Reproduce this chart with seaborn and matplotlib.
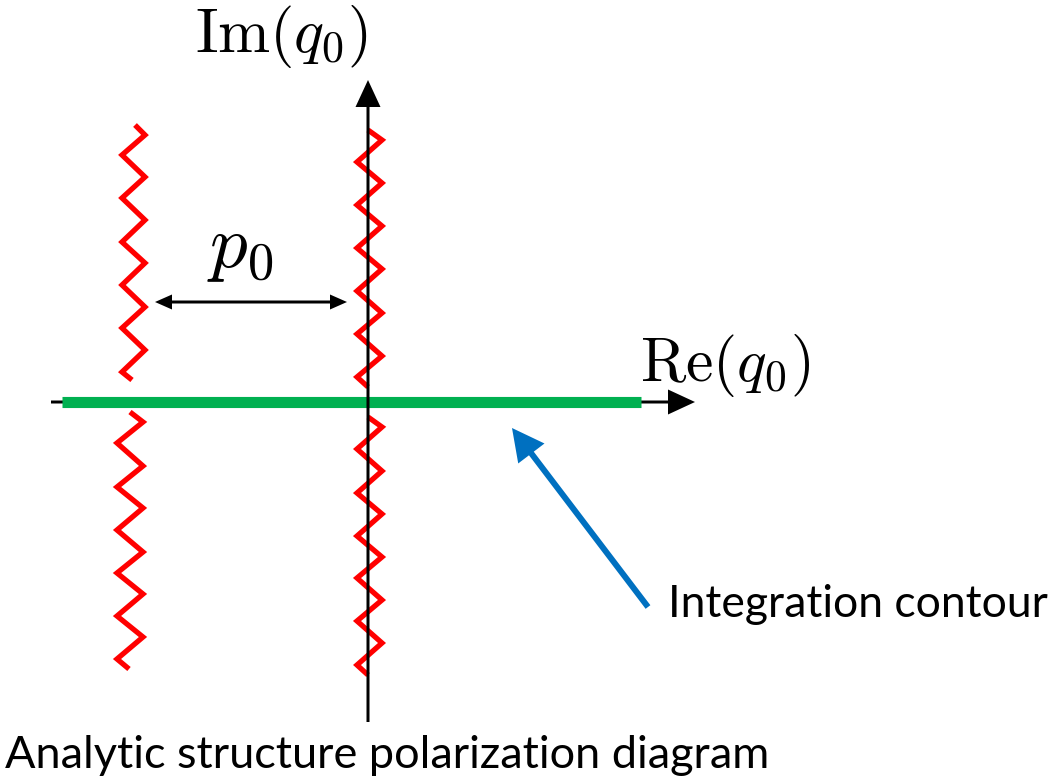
import matplotlib
matplotlib.use("Agg")
import matplotlib.pyplot as plt
import seaborn as sns

sns.set_theme(style="white")
plt.rcParams["mathtext.fontset"] = "cm"
plt.rcParams["font.family"] = ["Lato", "DejaVu Sans"]
plt.rcParams["text.color"] = "black"

W, H = 1056, 781

# Branch cuts drawn as zigzags (vertex positions in canvas units)
cut_left_upper_x = [135, 145, 122, 145, 122, 145, 122, 145, 122, 145, 122, 145, 122, 132]
cut_left_upper_y = [125, 135, 155, 177, 198, 220, 242, 263, 285, 307, 328, 350, 372, 380]
cut_left_lower_x = [130, 143, 117, 143, 117, 143, 117, 143, 117, 143, 117, 143, 117, 129]
cut_left_lower_y = [412, 422, 443, 466, 487, 508, 530, 552, 573, 594, 616, 637, 659, 669]
cut_right_upper_x = [368, 382, 357, 382, 357, 382, 357, 382, 357, 382, 357, 382, 357, 368]
cut_right_upper_y = [130, 140, 162, 183, 205, 226, 248, 269, 291, 313, 334, 356, 377, 387]
cut_right_lower_x = [368, 382, 357, 382, 357, 382, 357, 382, 357, 382, 357, 382, 357, 368]
cut_right_lower_y = [417, 427, 449, 471, 493, 514, 536, 557, 578, 600, 621, 643, 665, 675]

# Axes of the complex q0 plane
origin = (368, 402)
re_axis_x = [51, 695]
im_axis_y = [722, 80]
contour_x = [62, 641]
p0_arrow_x = [155, 347]
p0_arrow_y = 302
pointer_tail = (648, 607)
pointer_tip = (512, 428)

fig = plt.figure(figsize=(W / 100, H / 100), dpi=100)
ax = fig.add_axes([0, 0, 1, 1])
ax.set_xlim(0, W)
ax.set_ylim(H, 0)
ax.set_axis_off()

# Real axis with arrowhead
ax.arrow(re_axis_x[0], origin[1], re_axis_x[1] - re_axis_x[0], 0, width=3,
         head_width=25, head_length=27, length_includes_head=True,
         color="black", lw=0, zorder=1)

# Integration contour along the real axis
sns.lineplot(x=contour_x, y=[origin[1]] * 2, color="#00B050", lw=8, ax=ax,
             zorder=2, sort=False, estimator=None, solid_capstyle="butt")

red = "#FF0000"
for xs, ys in [(cut_left_upper_x, cut_left_upper_y),
               (cut_left_lower_x, cut_left_lower_y),
               (cut_right_upper_x, cut_right_upper_y),
               (cut_right_lower_x, cut_right_lower_y)]:
    sns.lineplot(x=xs, y=ys, color=red, lw=3.8, ax=ax, zorder=3,
                 sort=False, estimator=None, solid_joinstyle="miter",
                 solid_capstyle="butt")

# Imaginary axis with arrowhead
ax.arrow(origin[0], im_axis_y[0], 0, im_axis_y[1] - im_axis_y[0], width=3,
         head_width=25, head_length=27, length_includes_head=True,
         color="black", lw=0, zorder=4)

# Double-headed arrow marking the separation p0
mid = (p0_arrow_x[0] + p0_arrow_x[1]) / 2
for end in p0_arrow_x:
    ax.arrow(mid, p0_arrow_y, end - mid, 0, width=3, head_width=15,
             head_length=17, length_includes_head=True, color="black", lw=0,
             zorder=4)

# Pointer to the contour
ax.arrow(pointer_tail[0], pointer_tail[1], pointer_tip[0] - pointer_tail[0],
         pointer_tip[1] - pointer_tail[1], width=6, head_width=33,
         head_length=32, length_includes_head=True, color="#0070C0", lw=0,
         zorder=4)

ax.text(195, 52, r"$\mathrm{Im}(q_0)$", fontsize=45, ha="left", va="baseline")
ax.text(640, 381, r"$\mathrm{Re}(q_0)$", fontsize=44.5, ha="left", va="baseline")
ax.text(207, 267, r"$p_0$", fontsize=54, ha="left", va="baseline")
ax.text(668, 617, "Integration contour", fontsize=32, ha="left", va="baseline")
ax.text(5, 768, "Analytic structure polarization diagram", fontsize=32.5,
        ha="left", va="baseline")

fig.savefig("out.png", dpi=100, facecolor="white")
